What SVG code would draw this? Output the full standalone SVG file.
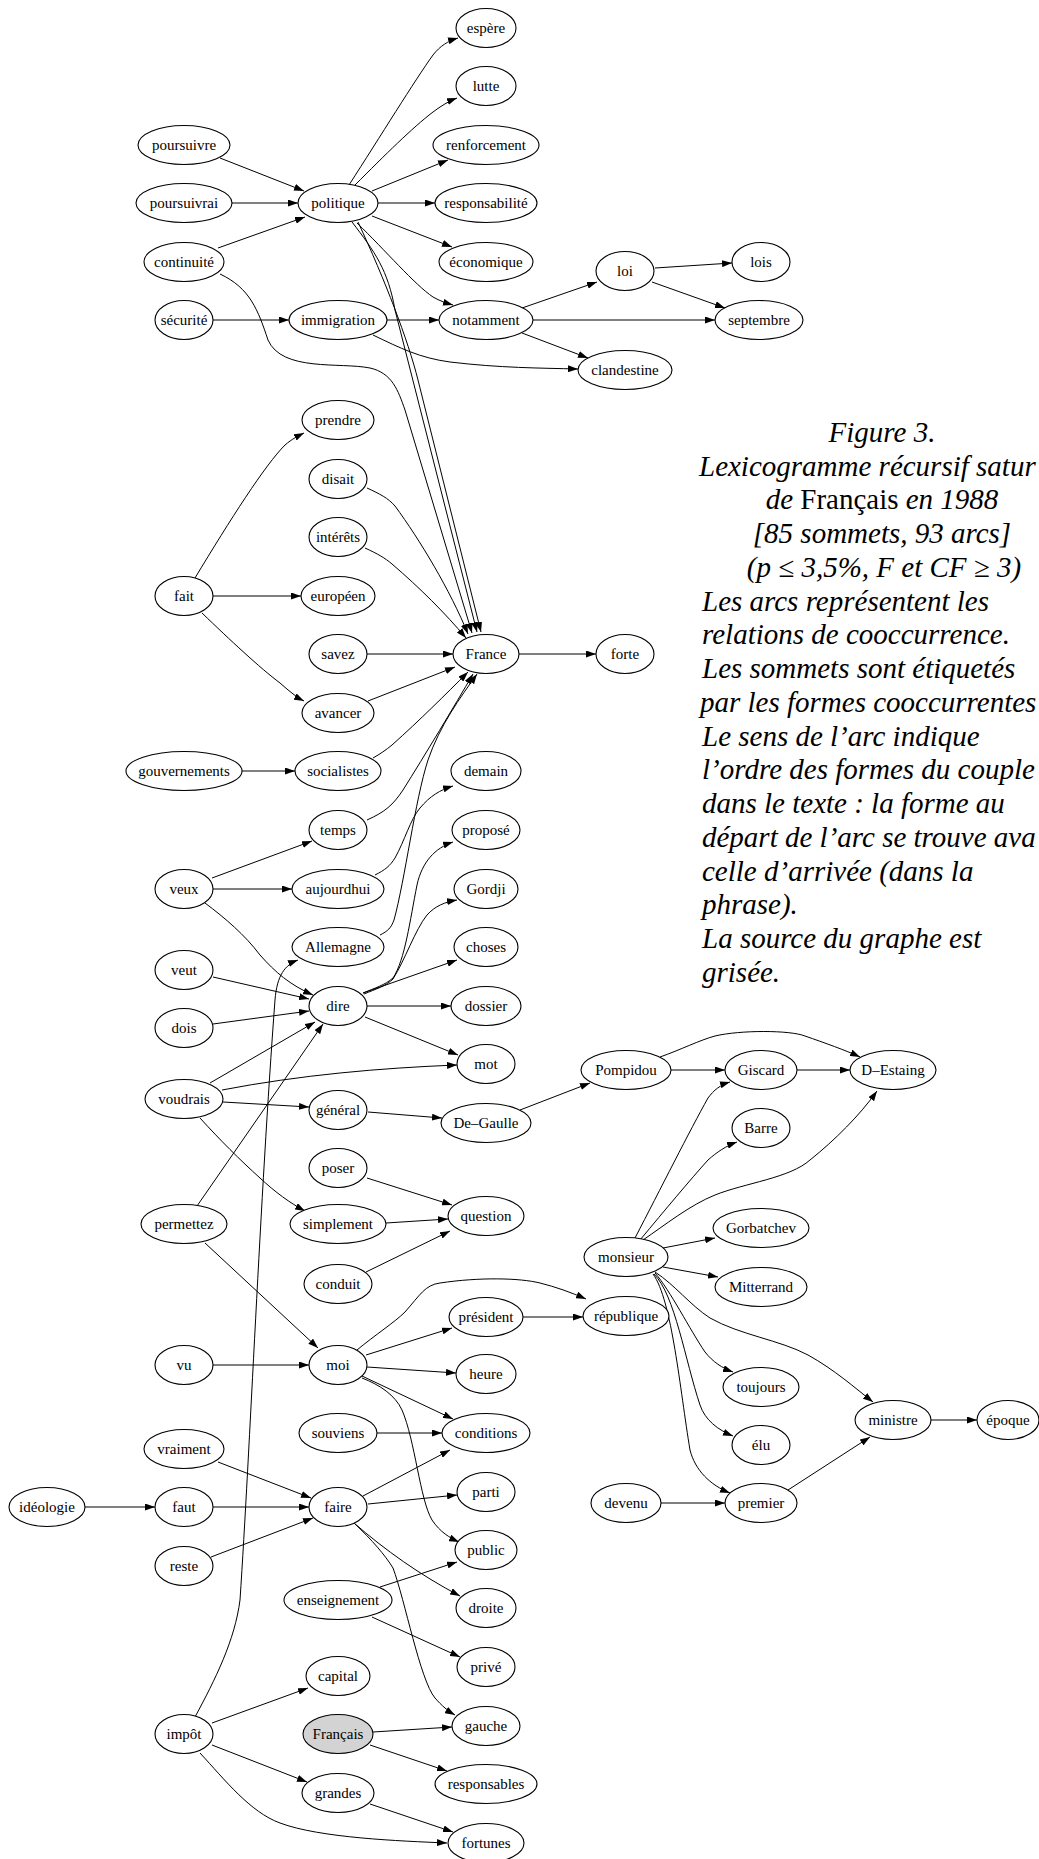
<svg xmlns="http://www.w3.org/2000/svg" width="1039" height="1859" viewBox="0 0 1039 1859">
<style>
.n ellipse{fill:#fff;stroke:#000;stroke-width:1.1}
.n text{font-family:"Liberation Serif","Times New Roman",serif;font-size:15px;text-anchor:middle;fill:#000}
#edges path{fill:none;stroke:#000;stroke-width:1;marker-end:url(#a)}
.cap{font-family:"Liberation Serif","Times New Roman",serif;font-size:29px;font-style:italic;fill:#000}
.c{text-anchor:middle}
</style>
<defs>
<marker id="a" viewBox="0 0 10 7" refX="10" refY="3.5" markerWidth="10" markerHeight="7" orient="auto" markerUnits="userSpaceOnUse"><path d="M0,0 L10,3.5 L0,7 z" fill="#000"/></marker>
</defs>
<rect width="1039" height="1859" fill="#fff"/>
<g id="edges">
<path d="M220,158 L304,191"/>
<path d="M232,203 L298,203"/>
<path d="M218,248 L305,217"/>
<path d="M220,274 C250,288 258,310 268,340 C282,372 340,362 370,368 C392,373 398,390 405,410 L472,633"/>
<path d="M349,185 C380,137 415,80 433,55 C440,46 448,41 458,38"/>
<path d="M355,185 C385,155 412,128 433,112 C441,106 449,101 457,98"/>
<path d="M372,191 L448,160"/>
<path d="M378,203 L435,203"/>
<path d="M372,216 L452,247"/>
<path d="M357,223 C385,250 415,285 433,297 C440,301 446,303 453,305"/>
<path d="M352,222 C375,252 388,270 395,310 L477,632"/>
<path d="M358,222 C385,280 408,340 418,380 L481,632"/>
<path d="M367,488 C380,494 388,498 395,506 C420,540 450,590 468,634"/>
<path d="M365,548 C378,554 385,558 392,564 C420,588 445,613 466,638"/>
<path d="M367,654 L453,654"/>
<path d="M368,701 L455,667"/>
<path d="M373,758 C380,754 386,750 392,745 C420,720 445,695 468,672"/>
<path d="M367,820 C385,812 393,805 403,790 C425,755 455,705 473,674"/>
<path d="M380,935 C388,931 391,928 394,920 C405,880 415,800 428,760 C440,725 460,698 477,674"/>
<path d="M519,654 L596,654"/>
<path d="M195,578 C230,520 265,465 285,445 C292,439 298,436 304,433"/>
<path d="M213,596 L301,596"/>
<path d="M202,613 C230,640 260,668 280,683 C288,690 296,697 304,701"/>
<path d="M242,771 L295,771"/>
<path d="M213,320 L289,320"/>
<path d="M387,320 L439,320"/>
<path d="M373,335 C400,348 420,358 450,362 C500,368 540,368 578,369"/>
<path d="M522,308 L597,282"/>
<path d="M533,320 L715,320"/>
<path d="M522,333 L588,358"/>
<path d="M655,268 L732,263"/>
<path d="M652,282 L725,308"/>
<path d="M212,878 L312,841"/>
<path d="M213,889 L292,889"/>
<path d="M205,903 C225,918 245,935 260,955 C275,972 290,985 313,995"/>
<path d="M375,875 C385,870 390,866 395,858 C405,840 410,820 420,808 C430,796 440,790 453,786"/>
<path d="M213,977 L309,999"/>
<path d="M213,1024 L309,1011"/>
<path d="M210,1083 L315,1022"/>
<path d="M222,1090 C300,1075 380,1068 457,1065"/>
<path d="M223,1102 L309,1107"/>
<path d="M200,1118 C220,1140 240,1160 260,1178 C275,1192 290,1203 305,1211"/>
<path d="M197,1206 L323,1024"/>
<path d="M205,1243 L318,1348"/>
<path d="M363,993 C375,988 385,985 393,978 C405,960 410,920 417,885 C422,862 435,848 453,842"/>
<path d="M364,994 C376,989 386,986 393,979 C405,960 415,930 427,915 C435,906 445,902 457,900"/>
<path d="M363,993 L457,960"/>
<path d="M367,1006 L451,1006"/>
<path d="M365,1017 L458,1055"/>
<path d="M368,1112 L442,1118"/>
<path d="M520,1110 L590,1083"/>
<path d="M671,1070 L725,1070"/>
<path d="M660,1057 C680,1050 700,1040 715,1036 C740,1030 790,1030 805,1036 C825,1043 845,1050 860,1057"/>
<path d="M797,1070 L850,1070"/>
<path d="M635,1238 C660,1190 690,1130 708,1098 C714,1090 720,1085 730,1082"/>
<path d="M640,1240 C665,1210 690,1180 708,1160 C717,1152 726,1146 737,1142"/>
<path d="M643,1240 C665,1225 690,1205 715,1195 C745,1183 790,1178 810,1160 C835,1140 860,1115 877,1091"/>
<path d="M663,1248 L715,1238"/>
<path d="M663,1267 L718,1277"/>
<path d="M655,1272 C675,1285 690,1305 710,1318 C740,1335 780,1340 808,1355 C835,1370 855,1388 873,1402"/>
<path d="M655,1273 C670,1290 690,1330 705,1352 C713,1362 722,1368 733,1372"/>
<path d="M654,1274 C675,1295 685,1360 700,1405 C705,1420 718,1430 733,1436"/>
<path d="M653,1274 C672,1300 680,1390 690,1450 C695,1470 710,1485 730,1493"/>
<path d="M931,1420 L977,1420"/>
<path d="M788,1490 L870,1437"/>
<path d="M661,1503 L725,1503"/>
<path d="M367,1178 L452,1205"/>
<path d="M386,1223 L448,1219"/>
<path d="M366,1272 L450,1231"/>
<path d="M213,1365 L309,1365"/>
<path d="M357,1350 C375,1335 395,1322 405,1312 C420,1295 425,1285 440,1283 C480,1277 520,1278 540,1283 C556,1287 570,1292 586,1299"/>
<path d="M366,1355 L452,1328"/>
<path d="M367,1367 L456,1373"/>
<path d="M362,1376 L453,1419"/>
<path d="M362,1378 C380,1385 395,1395 402,1410 C415,1440 420,1500 432,1520 C440,1532 450,1538 459,1542"/>
<path d="M523,1317 L583,1317"/>
<path d="M377,1433 L442,1433"/>
<path d="M218,1462 L311,1498"/>
<path d="M85,1507 L155,1507"/>
<path d="M213,1507 L309,1507"/>
<path d="M211,1557 L313,1518"/>
<path d="M363,1496 L450,1450"/>
<path d="M368,1504 L457,1495"/>
<path d="M354,1523 C385,1550 420,1575 460,1596"/>
<path d="M355,1524 C372,1540 385,1555 393,1568 C405,1600 420,1680 435,1698 C442,1706 448,1711 455,1715"/>
<path d="M380,1587 L457,1562"/>
<path d="M372,1617 L460,1657"/>
<path d="M195,1717 C215,1680 235,1640 240,1600 C250,1450 260,1200 275,1000 C277,975 285,965 298,960"/>
<path d="M212,1723 L308,1688"/>
<path d="M212,1745 L307,1782"/>
<path d="M200,1753 C225,1780 250,1812 280,1823 C320,1838 400,1841 447,1843"/>
<path d="M373,1732 L452,1727"/>
<path d="M370,1745 L447,1771"/>
<path d="M370,1804 L453,1832"/>
</g>
<g id="n_espere" class="n"><ellipse cx="486" cy="28" rx="30" ry="19.5"/><text x="486" y="33">espère</text></g>
<g id="n_lutte" class="n"><ellipse cx="486" cy="86" rx="30" ry="19.5"/><text x="486" y="91">lutte</text></g>
<g id="n_renforcement" class="n"><ellipse cx="486" cy="145" rx="53" ry="19.5"/><text x="486" y="150">renforcement</text></g>
<g id="n_poursuivre" class="n"><ellipse cx="184" cy="145" rx="46" ry="19.5"/><text x="184" y="150">poursuivre</text></g>
<g id="n_poursuivrai" class="n"><ellipse cx="184" cy="203" rx="48" ry="19.5"/><text x="184" y="208">poursuivrai</text></g>
<g id="n_politique" class="n"><ellipse cx="338" cy="203" rx="40" ry="19.5"/><text x="338" y="208">politique</text></g>
<g id="n_responsabilite" class="n"><ellipse cx="486" cy="203" rx="51" ry="19.5"/><text x="486" y="208">responsabilité</text></g>
<g id="n_continuite" class="n"><ellipse cx="184" cy="262" rx="40" ry="19.5"/><text x="184" y="267">continuité</text></g>
<g id="n_economique" class="n"><ellipse cx="486" cy="262" rx="47" ry="19.5"/><text x="486" y="267">économique</text></g>
<g id="n_lois" class="n"><ellipse cx="761" cy="262" rx="29" ry="19.5"/><text x="761" y="267">lois</text></g>
<g id="n_loi" class="n"><ellipse cx="625" cy="271" rx="29" ry="19.5"/><text x="625" y="276">loi</text></g>
<g id="n_securite" class="n"><ellipse cx="184" cy="320" rx="29" ry="19.5"/><text x="184" y="325">sécurité</text></g>
<g id="n_immigration" class="n"><ellipse cx="338" cy="320" rx="49" ry="19.5"/><text x="338" y="325">immigration</text></g>
<g id="n_notamment" class="n"><ellipse cx="486" cy="320" rx="47" ry="19.5"/><text x="486" y="325">notamment</text></g>
<g id="n_septembre" class="n"><ellipse cx="759" cy="320" rx="44" ry="19.5"/><text x="759" y="325">septembre</text></g>
<g id="n_clandestine" class="n"><ellipse cx="625" cy="370" rx="47" ry="19.5"/><text x="625" y="375">clandestine</text></g>
<g id="n_prendre" class="n"><ellipse cx="338" cy="420" rx="36" ry="19.5"/><text x="338" y="425">prendre</text></g>
<g id="n_disait" class="n"><ellipse cx="338" cy="479" rx="29" ry="19.5"/><text x="338" y="484">disait</text></g>
<g id="n_interets" class="n"><ellipse cx="338" cy="537" rx="29" ry="19.5"/><text x="338" y="542">intérêts</text></g>
<g id="n_fait" class="n"><ellipse cx="184" cy="596" rx="29" ry="19.5"/><text x="184" y="601">fait</text></g>
<g id="n_europeen" class="n"><ellipse cx="338" cy="596" rx="37" ry="19.5"/><text x="338" y="601">européen</text></g>
<g id="n_savez" class="n"><ellipse cx="338" cy="654" rx="29" ry="19.5"/><text x="338" y="659">savez</text></g>
<g id="n_France" class="n"><ellipse cx="486" cy="654" rx="33" ry="19.5"/><text x="486" y="659">France</text></g>
<g id="n_forte" class="n"><ellipse cx="625" cy="654" rx="29" ry="19.5"/><text x="625" y="659">forte</text></g>
<g id="n_avancer" class="n"><ellipse cx="338" cy="713" rx="36" ry="19.5"/><text x="338" y="718">avancer</text></g>
<g id="n_gouvernements" class="n"><ellipse cx="184" cy="771" rx="58" ry="19.5"/><text x="184" y="776">gouvernements</text></g>
<g id="n_socialistes" class="n"><ellipse cx="338" cy="771" rx="43" ry="19.5"/><text x="338" y="776">socialistes</text></g>
<g id="n_demain" class="n"><ellipse cx="486" cy="771" rx="35" ry="19.5"/><text x="486" y="776">demain</text></g>
<g id="n_temps" class="n"><ellipse cx="338" cy="830" rx="29" ry="19.5"/><text x="338" y="835">temps</text></g>
<g id="n_propose" class="n"><ellipse cx="486" cy="830" rx="34" ry="19.5"/><text x="486" y="835">proposé</text></g>
<g id="n_veux" class="n"><ellipse cx="184" cy="889" rx="29" ry="19.5"/><text x="184" y="894">veux</text></g>
<g id="n_aujourdhui" class="n"><ellipse cx="338" cy="889" rx="46" ry="19.5"/><text x="338" y="894">aujourdhui</text></g>
<g id="n_Gordji" class="n"><ellipse cx="486" cy="889" rx="32" ry="19.5"/><text x="486" y="894">Gordji</text></g>
<g id="n_Allemagne" class="n"><ellipse cx="338" cy="947" rx="46" ry="19.5"/><text x="338" y="952">Allemagne</text></g>
<g id="n_choses" class="n"><ellipse cx="486" cy="947" rx="32" ry="19.5"/><text x="486" y="952">choses</text></g>
<g id="n_veut" class="n"><ellipse cx="184" cy="970" rx="29" ry="19.5"/><text x="184" y="975">veut</text></g>
<g id="n_dire" class="n"><ellipse cx="338" cy="1006" rx="29" ry="19.5"/><text x="338" y="1011">dire</text></g>
<g id="n_dossier" class="n"><ellipse cx="486" cy="1006" rx="35" ry="19.5"/><text x="486" y="1011">dossier</text></g>
<g id="n_dois" class="n"><ellipse cx="184" cy="1028" rx="29" ry="19.5"/><text x="184" y="1033">dois</text></g>
<g id="n_mot" class="n"><ellipse cx="486" cy="1064" rx="29" ry="19.5"/><text x="486" y="1069">mot</text></g>
<g id="n_voudrais" class="n"><ellipse cx="184" cy="1099" rx="39" ry="19.5"/><text x="184" y="1104">voudrais</text></g>
<g id="n_general" class="n"><ellipse cx="338" cy="1110" rx="29" ry="19.5"/><text x="338" y="1115">général</text></g>
<g id="n_DeGaulle" class="n"><ellipse cx="486" cy="1123" rx="45" ry="19.5"/><text x="486" y="1128">De–Gaulle</text></g>
<g id="n_Pompidou" class="n"><ellipse cx="626" cy="1070" rx="45" ry="19.5"/><text x="626" y="1075">Pompidou</text></g>
<g id="n_Giscard" class="n"><ellipse cx="761" cy="1070" rx="36" ry="19.5"/><text x="761" y="1075">Giscard</text></g>
<g id="n_DEstaing" class="n"><ellipse cx="893" cy="1070" rx="43" ry="19.5"/><text x="893" y="1075">D–Estaing</text></g>
<g id="n_Barre" class="n"><ellipse cx="761" cy="1128" rx="29" ry="19.5"/><text x="761" y="1133">Barre</text></g>
<g id="n_poser" class="n"><ellipse cx="338" cy="1168" rx="29" ry="19.5"/><text x="338" y="1173">poser</text></g>
<g id="n_question" class="n"><ellipse cx="486" cy="1216" rx="38" ry="19.5"/><text x="486" y="1221">question</text></g>
<g id="n_permettez" class="n"><ellipse cx="184" cy="1224" rx="43" ry="19.5"/><text x="184" y="1229">permettez</text></g>
<g id="n_simplement" class="n"><ellipse cx="338" cy="1224" rx="48" ry="19.5"/><text x="338" y="1229">simplement</text></g>
<g id="n_Gorbatchev" class="n"><ellipse cx="761" cy="1228" rx="48" ry="19.5"/><text x="761" y="1233">Gorbatchev</text></g>
<g id="n_monsieur" class="n"><ellipse cx="626" cy="1257" rx="42" ry="19.5"/><text x="626" y="1262">monsieur</text></g>
<g id="n_Mitterrand" class="n"><ellipse cx="761" cy="1287" rx="46" ry="19.5"/><text x="761" y="1292">Mitterrand</text></g>
<g id="n_conduit" class="n"><ellipse cx="338" cy="1284" rx="34" ry="19.5"/><text x="338" y="1289">conduit</text></g>
<g id="n_president" class="n"><ellipse cx="486" cy="1317" rx="37" ry="19.5"/><text x="486" y="1322">président</text></g>
<g id="n_republique" class="n"><ellipse cx="626" cy="1316" rx="43" ry="19.5"/><text x="626" y="1321">république</text></g>
<g id="n_vu" class="n"><ellipse cx="184" cy="1365" rx="29" ry="19.5"/><text x="184" y="1370">vu</text></g>
<g id="n_moi" class="n"><ellipse cx="338" cy="1365" rx="29" ry="19.5"/><text x="338" y="1370">moi</text></g>
<g id="n_heure" class="n"><ellipse cx="486" cy="1374" rx="30" ry="19.5"/><text x="486" y="1379">heure</text></g>
<g id="n_toujours" class="n"><ellipse cx="761" cy="1387" rx="38" ry="19.5"/><text x="761" y="1392">toujours</text></g>
<g id="n_ministre" class="n"><ellipse cx="893" cy="1420" rx="38" ry="19.5"/><text x="893" y="1425">ministre</text></g>
<g id="n_epoque" class="n"><ellipse cx="1008" cy="1420" rx="31" ry="19.5"/><text x="1008" y="1425">époque</text></g>
<g id="n_souviens" class="n"><ellipse cx="338" cy="1433" rx="39" ry="19.5"/><text x="338" y="1438">souviens</text></g>
<g id="n_conditions" class="n"><ellipse cx="486" cy="1433" rx="44" ry="19.5"/><text x="486" y="1438">conditions</text></g>
<g id="n_elu" class="n"><ellipse cx="761" cy="1445" rx="29" ry="19.5"/><text x="761" y="1450">élu</text></g>
<g id="n_vraiment" class="n"><ellipse cx="184" cy="1449" rx="40" ry="19.5"/><text x="184" y="1454">vraiment</text></g>
<g id="n_parti" class="n"><ellipse cx="486" cy="1492" rx="29" ry="19.5"/><text x="486" y="1497">parti</text></g>
<g id="n_ideologie" class="n"><ellipse cx="47" cy="1507" rx="38" ry="19.5"/><text x="47" y="1512">idéologie</text></g>
<g id="n_faut" class="n"><ellipse cx="184" cy="1507" rx="29" ry="19.5"/><text x="184" y="1512">faut</text></g>
<g id="n_faire" class="n"><ellipse cx="338" cy="1507" rx="29" ry="19.5"/><text x="338" y="1512">faire</text></g>
<g id="n_devenu" class="n"><ellipse cx="626" cy="1503" rx="35" ry="19.5"/><text x="626" y="1508">devenu</text></g>
<g id="n_premier" class="n"><ellipse cx="761" cy="1503" rx="36" ry="19.5"/><text x="761" y="1508">premier</text></g>
<g id="n_public" class="n"><ellipse cx="486" cy="1550" rx="31" ry="19.5"/><text x="486" y="1555">public</text></g>
<g id="n_reste" class="n"><ellipse cx="184" cy="1566" rx="29" ry="19.5"/><text x="184" y="1571">reste</text></g>
<g id="n_enseignement" class="n"><ellipse cx="338" cy="1600" rx="54" ry="19.5"/><text x="338" y="1605">enseignement</text></g>
<g id="n_droite" class="n"><ellipse cx="486" cy="1608" rx="30" ry="19.5"/><text x="486" y="1613">droite</text></g>
<g id="n_prive" class="n"><ellipse cx="486" cy="1667" rx="29" ry="19.5"/><text x="486" y="1672">privé</text></g>
<g id="n_capital" class="n"><ellipse cx="338" cy="1676" rx="32" ry="19.5"/><text x="338" y="1681">capital</text></g>
<g id="n_impot" class="n"><ellipse cx="184" cy="1734" rx="29" ry="19.5"/><text x="184" y="1739">impôt</text></g>
<g id="n_Francais" class="n"><ellipse cx="338" cy="1734" rx="35" ry="19.5" style="fill:#d3d3d3"/><text x="338" y="1739">Français</text></g>
<g id="n_gauche" class="n"><ellipse cx="486" cy="1726" rx="34" ry="19.5"/><text x="486" y="1731">gauche</text></g>
<g id="n_responsables" class="n"><ellipse cx="486" cy="1784" rx="51" ry="19.5"/><text x="486" y="1789">responsables</text></g>
<g id="n_grandes" class="n"><ellipse cx="338" cy="1793" rx="36" ry="19.5"/><text x="338" y="1798">grandes</text></g>
<g id="n_fortunes" class="n"><ellipse cx="486" cy="1843" rx="38" ry="19.5"/><text x="486" y="1848">fortunes</text></g>
<g id="caption" class="cap">
<text class="c" x="882" y="442">Figure 3.</text>
<text x="699" y="476">Lexicogramme récursif satur</text>
<text class="c" x="882" y="509">de <tspan font-style="normal">Français</tspan> en 1988</text>
<text class="c" x="882" y="543">[85 sommets, 93 arcs]</text>
<text class="c" x="884" y="577">(p ≤ 3,5%, F et CF ≥ 3)</text>
<text x="702" y="611">Les arcs représentent les</text>
<text x="702" y="644">relations de cooccurrence.</text>
<text x="702" y="678">Les sommets sont étiquetés</text>
<text x="700" y="712">par les formes cooccurrentes</text>
<text x="702" y="746">Le sens de l’arc indique</text>
<text x="702" y="779">l’ordre des formes du couple</text>
<text x="702" y="813">dans le texte : la forme au</text>
<text x="702" y="847">départ de l’arc se trouve ava</text>
<text x="702" y="881">celle d’arrivée (dans la</text>
<text x="702" y="914">phrase).</text>
<text x="702" y="948">La source du graphe est</text>
<text x="702" y="982">grisée.</text>
</g>
</svg>
